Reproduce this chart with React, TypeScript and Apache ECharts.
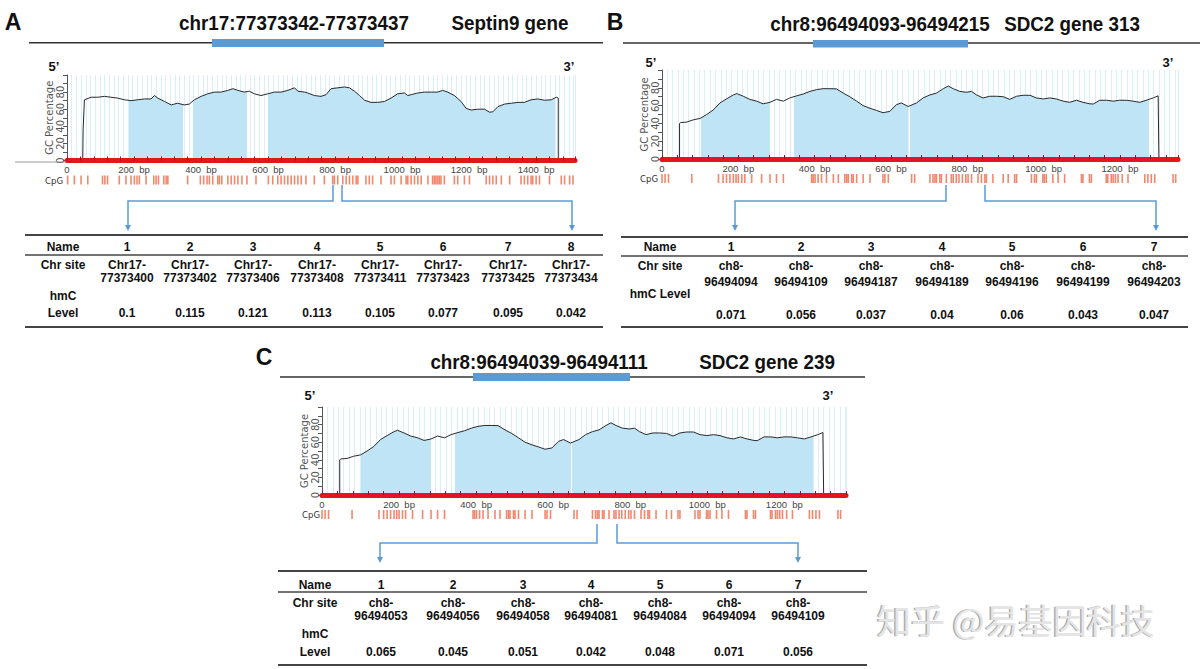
import React, { useEffect, useRef } from 'react';
import * as echarts from 'echarts';

// ---------- DATA ----------
// Septin9 GC percentage profile [bp, %]
const septinGc: [number, number][] = [
  [0, 0], [47, 0], [48, 35], [52, 71], [72, 74], [92, 74], [112, 75], [131, 74], [151, 73], [171, 71],
  [191, 70], [211, 71], [231, 72], [251, 72], [261, 76], [271, 73], [291, 69], [311, 65], [330, 67],
  [350, 65], [365, 66], [380, 71], [400, 75], [420, 78], [440, 80], [460, 80], [480, 82], [495, 84],
  [510, 82], [529, 80], [544, 81], [559, 78], [579, 76], [599, 78], [619, 80], [639, 80], [659, 82],
  [679, 85], [689, 81], [709, 80], [718, 79], [738, 76], [758, 75], [773, 77], [788, 84], [808, 85],
  [828, 86], [843, 85], [858, 81], [873, 76], [888, 70.5], [907, 68], [927, 68], [947, 69], [967, 73],
  [987, 78], [1007, 79], [1017, 76], [1027, 77], [1047, 79], [1067, 80], [1087, 80], [1106, 80],
  [1121, 82], [1136, 80], [1156, 76], [1176, 69], [1191, 61], [1206, 59], [1226, 60], [1246, 60],
  [1261, 56.5], [1271, 57], [1286, 63], [1306, 66], [1326, 67], [1346, 68], [1365, 68], [1385, 71],
  [1405, 72], [1425, 70.5], [1445, 71], [1460, 74], [1466, 73], [1466, 0], [1516, 0],
];
const septinIslands: [number, number][] = [[186, 345], [377, 537], [599, 1457]];
const septinCpg: number[] = [
  2, 22, 42, 62, 106, 113, 121, 156, 176, 191, 201, 209, 216, 236, 259, 266, 273, 289, 296, 301, 360,
  398, 408, 418, 425, 435, 450, 455, 462, 480, 490, 500, 510, 522, 537, 564, 601, 614, 629, 639, 649,
  659, 669, 679, 689, 699, 713, 738, 768, 793, 798, 808, 823, 833, 843, 853, 863, 868, 892, 902, 912,
  937, 967, 977, 997, 1012, 1017, 1027, 1037, 1047, 1057, 1077, 1091, 1096, 1101, 1106, 1111, 1116,
  1126, 1156, 1166, 1186, 1201, 1251, 1261, 1271, 1281, 1296, 1321, 1355, 1365, 1375, 1385, 1390,
  1400, 1410, 1440, 1475, 1485, 1500, 1510,
];

// SDC2 GC percentage profile [bp, %]
const sdc2Gc: [number, number][] = [
  [0, 0], [46, 0], [46, 40], [49, 41], [65, 41.5], [82, 44], [100, 45.6], [117, 50], [134, 55],
  [152, 63], [169, 67.5], [187, 72], [196, 73.5], [213, 70.5], [230, 67], [248, 65], [265, 62],
  [283, 63.7], [300, 67], [318, 65], [335, 68.6], [353, 71], [370, 73], [388, 76], [405, 78], [422, 79],
  [440, 79], [457, 78.8], [475, 74], [492, 70], [510, 65], [527, 60], [545, 57], [562, 54.6], [579, 52],
  [597, 53.5], [614, 61], [627, 63], [645, 59], [667, 63], [684, 68.6], [702, 72], [719, 74], [737, 79],
  [750, 82], [763, 79], [780, 76], [798, 75], [811, 76], [824, 72], [841, 68.6], [859, 70.5], [876, 70.5],
  [894, 70], [911, 67], [929, 70.5], [946, 71.6], [964, 71.6], [981, 68.6], [999, 67.5], [1016, 68.6],
  [1033, 67.5], [1051, 65], [1068, 63.7], [1086, 66], [1103, 63.7], [1121, 62], [1130, 61.8], [1147, 66],
  [1165, 66], [1182, 65], [1199, 66], [1217, 66], [1234, 65], [1252, 63.7], [1269, 66], [1287, 68.6],
  [1300, 71], [1302, 0], [1360, 0],
];
const sdc2Islands: [number, number][] = [[102, 283], [346, 645], [650, 1275]];
const sdc2Cpg: number[] = [
  0, 8, 17, 78, 148, 160, 169, 178, 187, 194, 200, 209, 217, 235, 261, 283, 300, 318, 392, 396, 401,
  409, 418, 431, 449, 462, 479, 484, 488, 497, 501, 510, 527, 545, 579, 584, 593, 654, 662, 702, 710,
  715, 719, 728, 732, 745, 758, 763, 771, 778, 787, 796, 802, 811, 828, 837, 846, 850, 867, 894, 907,
  924, 929, 968, 976, 981, 998, 1002, 1007, 1024, 1038, 1055, 1099, 1103, 1120, 1125, 1164, 1168,
  1177, 1182, 1188, 1195, 1206, 1221, 1265, 1273, 1282, 1291, 1339, 1346,
];

// Tables
const namesA = ['1', '2', '3', '4', '5', '6', '7', '8'];
const sitesA = ['Chr17-77373400', 'Chr17-77373402', 'Chr17-77373406', 'Chr17-77373408', 'Chr17-77373411', 'Chr17-77373423', 'Chr17-77373425', 'Chr17-77373434'];
const levelsA = [0.1, 0.115, 0.121, 0.113, 0.105, 0.077, 0.095, 0.042];

const namesB = ['1', '2', '3', '4', '5', '6', '7'];
const sitesB = ['ch8-96494094', 'ch8-96494109', 'ch8-96494187', 'ch8-96494189', 'ch8-96494196', 'ch8-96494199', 'ch8-96494203'];
const levelsB = [0.071, 0.056, 0.037, 0.04, 0.06, 0.043, 0.047];

const namesC = ['1', '2', '3', '4', '5', '6', '7'];
const sitesC = ['ch8-96494053', 'ch8-96494056', 'ch8-96494058', 'ch8-96494081', 'ch8-96494084', 'ch8-96494094', 'ch8-96494109'];
const levelsC = [0.065, 0.045, 0.051, 0.042, 0.048, 0.071, 0.056];

// ---------- STYLE HELPERS ----------
const FONT = '"Liberation Sans", Arial, sans-serif';
const SMALL = '"DejaVu Sans", Verdana, sans-serif';
const GRIDC = '#d9eef6';
const FILLC = '#bee4f5';
const BLUE = '#5b9bd5';

function T(x: number, y: number, text: string, size: number, extra: any = {}) {
  const { weight = 'bold', color = '#111', align = 'center', scaleX = 1, family = FONT, z = 100 } = extra;
  return {
    type: 'text', x, y, scaleX, silent: true, z,
    style: {
      text, font: `${weight} ${size}px ${family}`, fill: color,
      textAlign: align, textVerticalAlign: 'middle', align, verticalAlign: 'middle',
    },
  };
}
function L(x1: number, y1: number, x2: number, y2: number, w: number, c = '#333') {
  return { type: 'line', silent: true, z: 100, shape: { x1, y1, x2, y2 }, style: { stroke: c, lineWidth: w } };
}
function R(x: number, y: number, w: number, h: number, c: string) {
  return { type: 'rect', silent: true, z: 100, shape: { x, y, width: w, height: h }, style: { fill: c } };
}
function connector(xl: number, xr: number, y0: number, yh: number, leftEnd: number, rightEnd: number, yTip: number) {
  const st = { stroke: BLUE, lineWidth: 1.5, fill: null };
  const arrow = (x: number) => ({
    type: 'polygon', silent: true, z: 100,
    shape: { points: [[x - 3, yTip - 6], [x + 3, yTip - 6], [x, yTip]] }, style: { fill: BLUE },
  });
  return [
    { type: 'polyline', silent: true, z: 100, shape: { points: [[xl, y0], [xl, yh], [leftEnd, yh], [leftEnd, yTip - 5]] }, style: st },
    { type: 'polyline', silent: true, z: 100, shape: { points: [[xr, y0], [xr, yh], [rightEnd, yh], [rightEnd, yTip - 5]] }, style: st },
    arrow(leftEnd), arrow(rightEnd),
  ];
}
function table(cfg: any) {
  const els: any[] = [];
  els.push(L(cfg.x1, cfg.top, cfg.x2, cfg.top, 2, '#444'));
  els.push(L(cfg.x1, cfg.mid, cfg.x2, cfg.mid, 1.5, '#444'));
  els.push(L(cfg.x1, cfg.bot, cfg.x2, cfg.bot, 2, '#444'));
  els.push(T(cfg.nameX, cfg.rName, 'Name', 12));
  els.push(T(cfg.nameX, cfg.rSite, 'Chr site', 12));
  if (cfg.levelOneLine) {
    els.push(T(cfg.nameX, cfg.rHmc, 'hmC Level', 12));
  } else {
    els.push(T(cfg.nameX, cfg.rHmc, 'hmC', 12));
    els.push(T(cfg.nameX, cfg.rLevel, 'Level', 12));
  }
  cfg.cols.forEach((cx: number, i: number) => {
    const [pre, num] = cfg.sites[i].split('-');
    els.push(T(cx, cfg.rName, cfg.names[i], 12));
    els.push(T(cx, cfg.rSite, pre + '-', 12));
    els.push(T(cx, cfg.rSite2, num, 12));
    els.push(T(cx, cfg.rLevel, String(cfg.levels[i]), 12));
  });
  return els;
}

const xFmt = (v: number) => (v === 0 ? '0' : v % 200 === 0 ? `${v}  bp` : '');
const yFmt = (v: number) => (v % 20 === 0 && v < 100 ? String(v) : '');

function redAxis(g: number, max: number) {
  return {
    gridIndex: g, type: 'value', min: 0, max, interval: 40, position: 'bottom', z: 10,
    axisLine: { show: true, onZero: false, lineStyle: { color: '#e3161b', width: 5 } },
    axisTick: { show: true, inside: true, length: 4, lineStyle: { color: '#9b1111', width: 1 } },
    axisLabel: { show: true, interval: 0, margin: 4, formatter: xFmt, fontSize: 9.5, color: '#444', fontFamily: 'Liberation Sans' },
    splitLine: { show: false },
  };
}
function gridAxis(g: number, max: number) {
  return {
    gridIndex: g, type: 'value', min: 0, max, interval: 14, position: 'top',
    axisLine: { show: false }, axisTick: { show: false }, axisLabel: { show: false },
    splitLine: { show: true, lineStyle: { color: GRIDC, width: 1 } },
  };
}
function cpgAxis(g: number, max: number) {
  return { gridIndex: g, type: 'value', min: 0, max, show: false, splitLine: { show: false } };
}
function gcYAxis(g: number) {
  return {
    gridIndex: g, type: 'value', min: 0, max: 100, interval: 10,
    name: 'GC Percentage', nameLocation: 'middle', nameRotate: 90, nameGap: 13,
    nameTextStyle: { fontSize: 10, color: '#555', fontFamily: 'DejaVu Sans' },
    axisLine: { show: true, lineStyle: { color: '#555', width: 1 } },
    axisTick: { show: true, length: 4, lineStyle: { color: '#555' } },
    axisLabel: { rotate: 90, margin: 2, fontSize: 10, color: '#555', fontFamily: 'DejaVu Sans', formatter: yFmt },
    splitLine: { show: false },
  };
}
function cpgYAxis(g: number) {
  return { gridIndex: g, type: 'value', min: 0, max: 1, show: false, splitLine: { show: false } };
}
function fillSeries(xi: number, yi: number, data: [number, number][]) {
  return {
    type: 'line', xAxisIndex: xi, yAxisIndex: yi, data, symbol: 'none', silent: true, z: 2,
    lineStyle: { width: 0 }, areaStyle: { opacity: 1 },
  };
}
function gcLine(xi: number, yi: number, data: [number, number][]) {
  return {
    type: 'line', xAxisIndex: xi, yAxisIndex: yi, data, symbol: 'none', silent: true, z: 3,
    lineStyle: { color: '#2a2a2a', width: 1 },
  };
}
function cpgSeries(xi: number, yi: number, data: number[]) {
  return {
    type: 'scatter', xAxisIndex: xi, yAxisIndex: yi, data: data.map((b) => [b, 0.5]),
    symbol: 'rect', symbolSize: [1.6, 9], silent: true, itemStyle: { color: '#ee6a48' },
  };
}
function islandMap(seriesIndex: number, islands: [number, number][]) {
  return {
    type: 'piecewise', show: false, seriesIndex, dimension: 0,
    pieces: islands.map(([a, b]) => ({ gte: a, lte: b, color: FILLC })),
    outOfRange: { color: 'rgba(255,255,255,0)' },
  };
}

const A_MAX = 1516;
const B_MAX = 1352;
const C_MAX = 1360;

function buildOption() {
  const graphics: any[] = [];
  // Panel labels & titles
  graphics.push(T(13, 22, 'A', 23));
  graphics.push(T(294, 23, 'chr17:77373342-77373437', 20, { scaleX: 0.94 }));
  graphics.push(T(510, 23, 'Septin9 gene', 20, { scaleX: 0.94 }));
  graphics.push(L(29, 42.7, 603, 42.7, 1.5));
  graphics.push(R(212, 39, 172, 8, BLUE));
  graphics.push(T(54, 66, '5\u2019', 13));
  graphics.push(T(569, 66, '3\u2019', 13));
  graphics.push(L(15, 162, 66, 162, 1, '#999'));
  graphics.push(T(63, 181, 'CpG', 8.5, { weight: 'normal', align: 'right', family: SMALL, color: '#333' }));

  graphics.push(T(615, 22, 'B', 23));
  graphics.push(T(880, 24, 'chr8:96494093-96494215', 20, { scaleX: 0.94 }));
  graphics.push(T(1072, 24, 'SDC2 gene 313', 20, { scaleX: 0.94 }));
  graphics.push(L(623, 43, 1200, 43, 1.5));
  graphics.push(R(813, 40, 155, 7.5, BLUE));
  graphics.push(T(651, 62.5, '5\u2019', 13));
  graphics.push(T(1168, 62.5, '3\u2019', 13));
  graphics.push(T(658, 179, 'CpG', 8.5, { weight: 'normal', align: 'right', family: SMALL, color: '#333' }));

  graphics.push(T(264, 357, 'C', 23));
  graphics.push(T(539, 362, 'chr8:96494039-96494111', 20, { scaleX: 0.94 }));
  graphics.push(T(767, 362, 'SDC2 gene 239', 20, { scaleX: 0.94 }));
  graphics.push(L(280, 377, 865, 377, 1.5));
  graphics.push(R(473, 373, 157, 8, BLUE));
  graphics.push(T(310, 395, '5\u2019', 13));
  graphics.push(T(828, 395, '3\u2019', 13));
  graphics.push(T(320, 515, 'CpG', 8.5, { weight: 'normal', align: 'right', family: SMALL, color: '#333' }));

  // Connectors
  graphics.push(...connector(333, 342, 185, 201, 128, 572, 231));
  graphics.push(...connector(946, 985, 185, 201, 735, 1156, 231));
  graphics.push(...connector(597, 617, 524, 543, 380, 798, 563));

  // Tables
  graphics.push(...table({
    x1: 25, x2: 603, top: 235, mid: 255, bot: 327, nameX: 63,
    rName: 247, rSite: 265, rSite2: 277.5, rHmc: 296, rLevel: 313,
    cols: [127, 190, 253, 317, 380, 443, 508, 571], names: namesA, sites: sitesA, levels: levelsA,
  }));
  graphics.push(...table({
    x1: 621, x2: 1188, top: 237, mid: 256, bot: 327, nameX: 660, levelOneLine: true,
    rName: 247, rSite: 266, rSite2: 282, rHmc: 294, rLevel: 315,
    cols: [731, 801, 871, 942, 1012, 1083, 1154], names: namesB, sites: sitesB, levels: levelsB,
  }));
  graphics.push(...table({
    x1: 278, x2: 867, top: 571, mid: 592, bot: 665, nameX: 315,
    rName: 585, rSite: 603, rSite2: 616, rHmc: 634, rLevel: 652,
    cols: [381, 453, 523, 591, 660, 729, 798], names: namesC, sites: sitesC, levels: levelsC,
  }));

  // Watermark
  graphics.push(T(875.5, 619, '知乎 @易基因科技', 34, { weight: 'normal', align: 'left', family: '"Noto Sans CJK SC", sans-serif', color: '#ababab', z: 99 }));
  graphics.push(T(877, 619.5, '知乎 @易基因科技', 34, { weight: 'normal', align: 'left', family: '"Noto Sans CJK SC", sans-serif', color: '#e4e4e4', z: 100 }));

  return {
    animation: false,
    backgroundColor: '#ffffff',
    grid: [
      { left: 67, top: 75, width: 508, height: 85.5 },
      { left: 67, top: 175.5, width: 508, height: 9 },
      { left: 662, top: 70, width: 516, height: 89 },
      { left: 662, top: 173.5, width: 516, height: 10 },
      { left: 322, top: 407, width: 524, height: 88 },
      { left: 322, top: 510, width: 524, height: 9 },
    ],
    xAxis: [
      redAxis(0, A_MAX), gridAxis(0, A_MAX), cpgAxis(1, A_MAX),
      redAxis(2, B_MAX), gridAxis(2, B_MAX), cpgAxis(3, B_MAX),
      redAxis(4, C_MAX), gridAxis(4, C_MAX), cpgAxis(5, C_MAX),
    ],
    yAxis: [gcYAxis(0), cpgYAxis(1), gcYAxis(2), cpgYAxis(3), gcYAxis(4), cpgYAxis(5)],
    visualMap: [islandMap(0, septinIslands), islandMap(3, sdc2Islands), islandMap(6, sdc2Islands)],
    series: [
      fillSeries(0, 0, septinGc), gcLine(0, 0, septinGc), cpgSeries(2, 1, septinCpg),
      fillSeries(3, 2, sdc2Gc), gcLine(3, 2, sdc2Gc), cpgSeries(5, 3, sdc2Cpg),
      fillSeries(6, 4, sdc2Gc), gcLine(6, 4, sdc2Gc), cpgSeries(8, 5, sdc2Cpg),
    ],
    graphic: { elements: graphics },
  };
}

export default function App() {
  const ref = useRef<HTMLDivElement>(null);
  useEffect(() => {
    if (!ref.current) return;
    const chart = echarts.init(ref.current, undefined, { renderer: 'svg' });
    chart.setOption(buildOption() as any);
    return () => chart.dispose();
  }, []);
  return (
    <div
      ref={ref}
      style={{ position: 'fixed', left: 0, top: 0, width: 1202, height: 669, background: '#fff' }}
    />
  );
}
